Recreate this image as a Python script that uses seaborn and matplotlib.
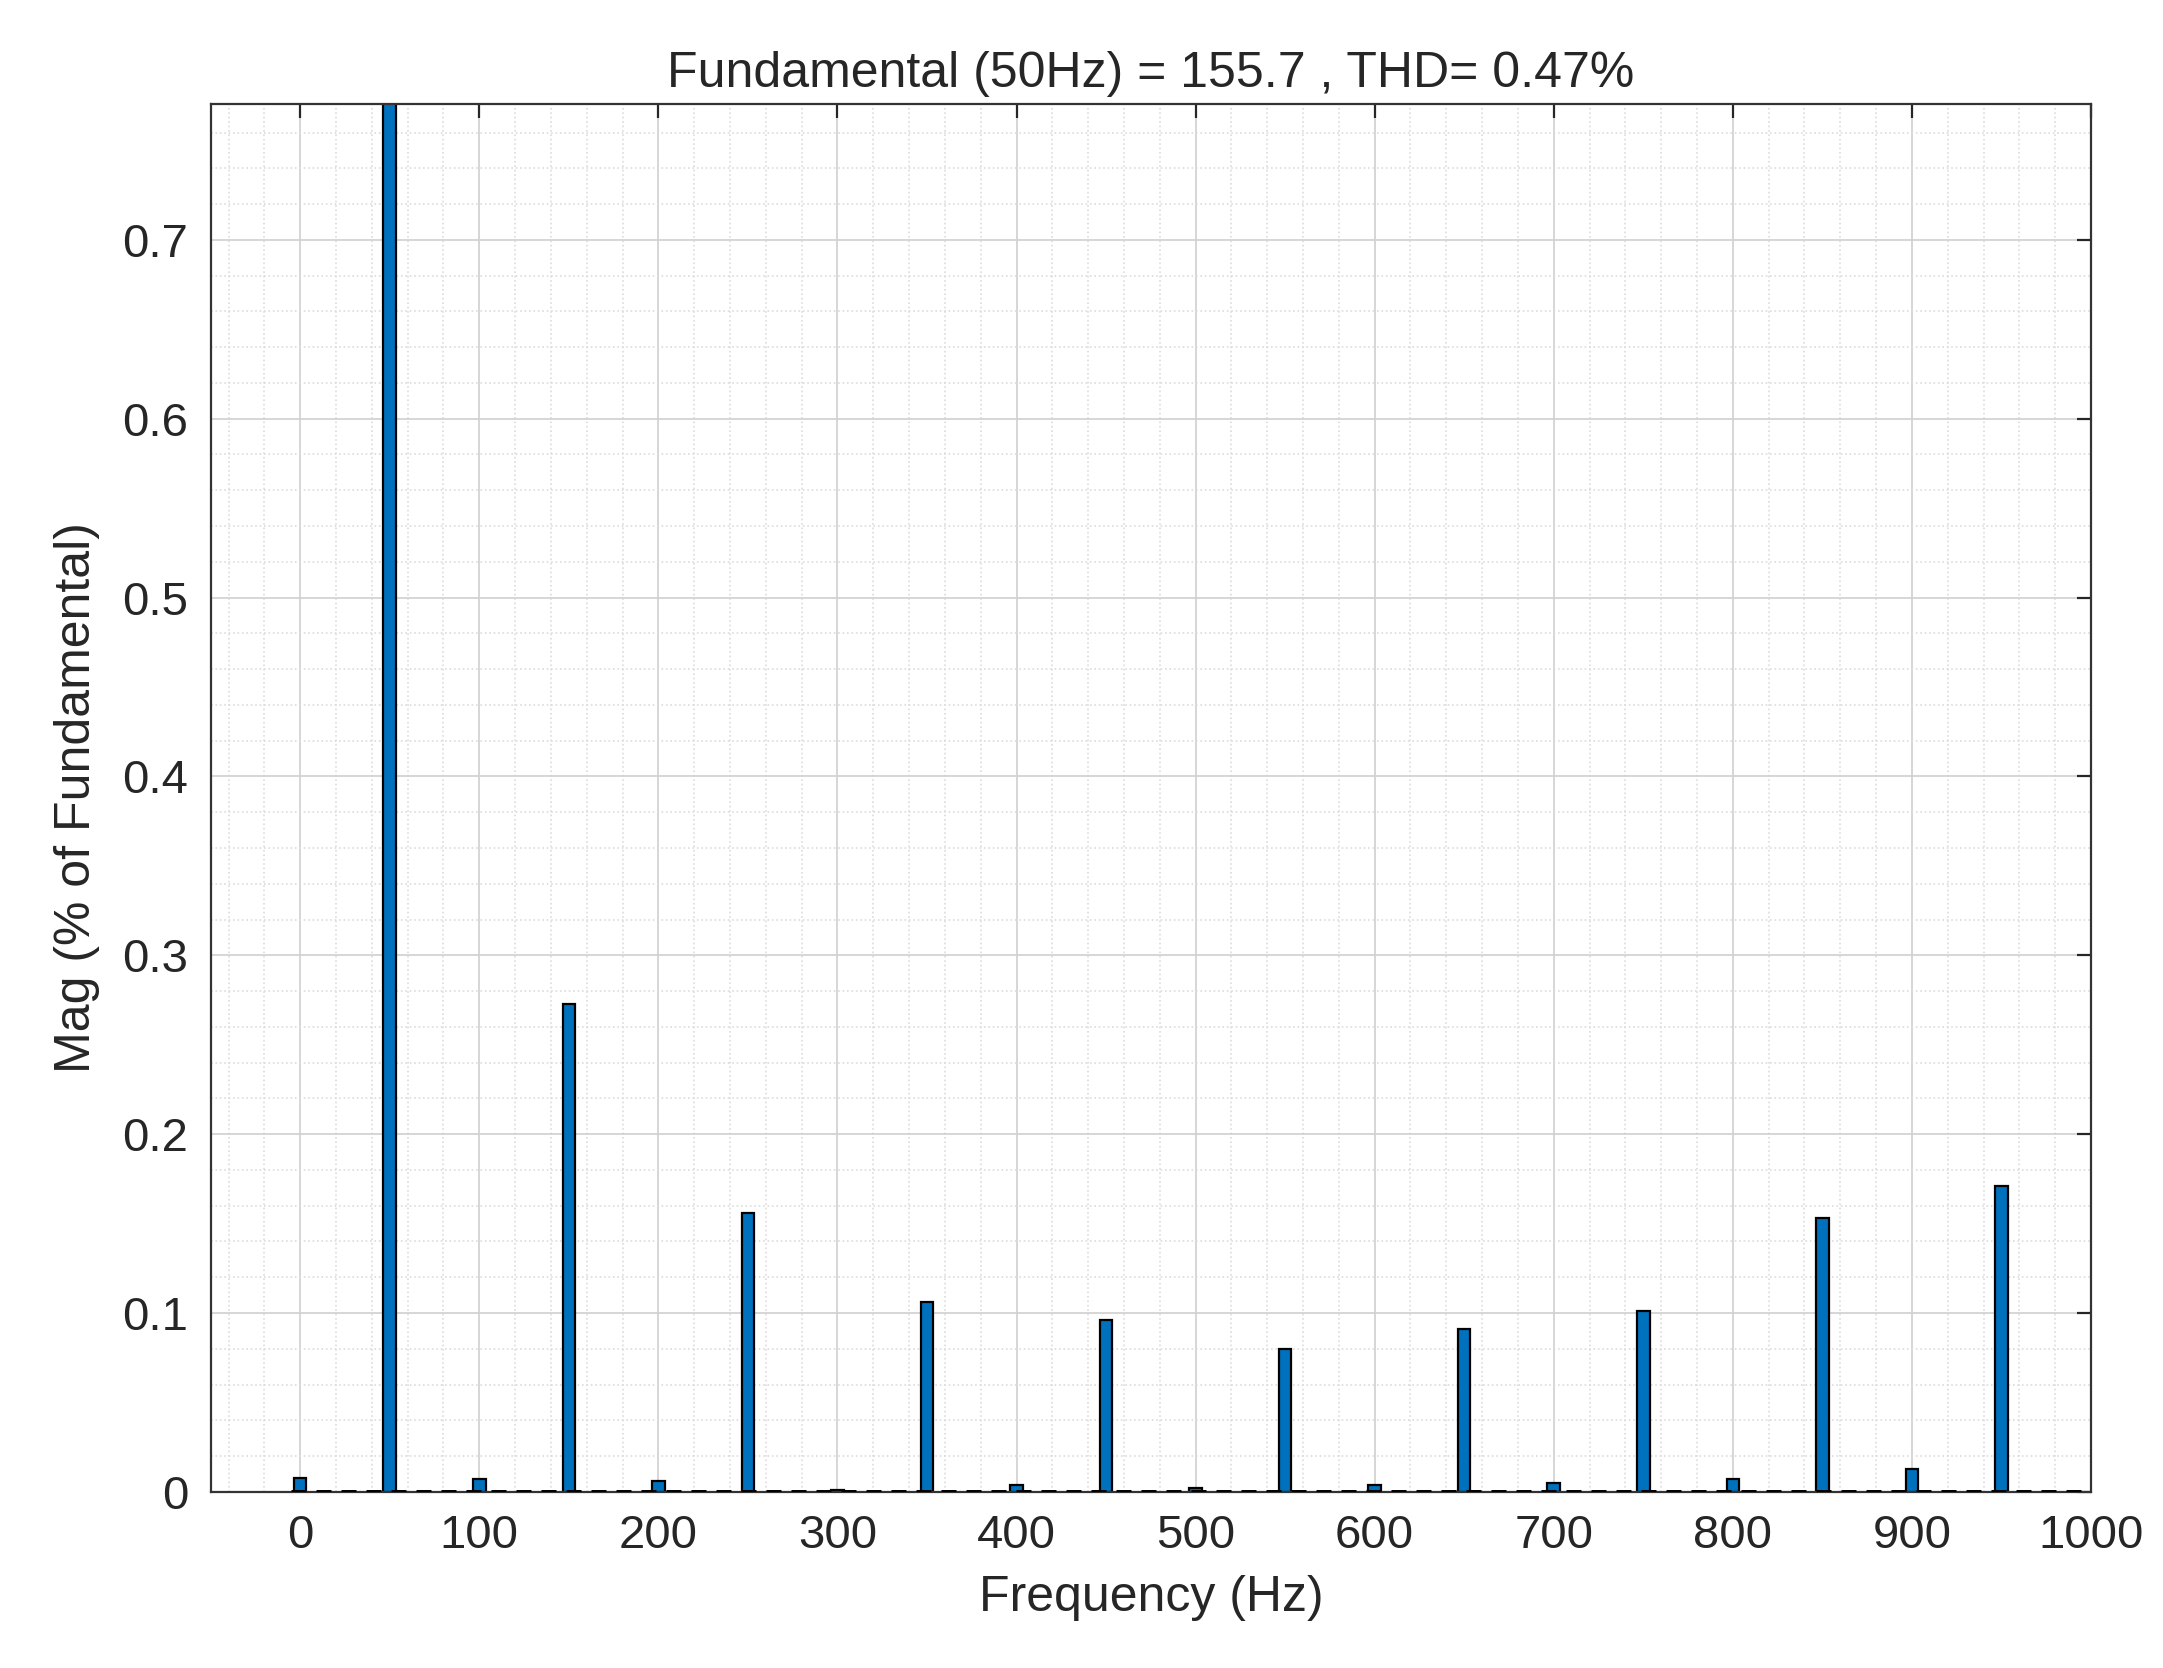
import seaborn as sns
import matplotlib.pyplot as plt
from matplotlib.ticker import MultipleLocator

# Гармоники (Гц) и амплитуды (% от основной)
freq = [0, 50, 100, 150, 200, 250, 300, 350, 400, 450, 500,
        550, 600, 650, 700, 750, 800, 850, 900, 950]
mag = [0.008, 100.0, 0.007, 0.273, 0.006, 0.156, 0.001, 0.106, 0.004, 0.096, 0.002,
       0.080, 0.004, 0.091, 0.005, 0.101, 0.007, 0.153, 0.013, 0.171]
x_ticks = [0, 100, 200, 300, 400, 500, 600, 700, 800, 900, 1000]
y_ticks = [0, 0.1, 0.2, 0.3, 0.4, 0.5, 0.6, 0.7]

sns.set_style('white')
plt.rcParams['font.family'] = ['Liberation Sans', 'DejaVu Sans']

fig = plt.figure(figsize=(10.815, 8.34), dpi=200)
ax = fig.add_axes([0.0974, 0.1056, 0.8693, 0.8321])

sns.barplot(x=freq, y=mag, native_scale=True, width=0.14, color='#0072BD',
            edgecolor='black', linewidth=0.8, saturation=1, ax=ax)
ax.plot([-5, 1000], [0, 0], color='black', linestyle=(0, (3, 2)), linewidth=1.8, zorder=5)

ax.set_xlim(-50, 1000)
ax.set_ylim(0, 0.776)
ax.set_xticks(x_ticks)
ax.set_yticks(y_ticks)
ax.set_yticklabels(['0'] + [f'{v:.1f}' for v in y_ticks[1:]])
ax.xaxis.set_minor_locator(MultipleLocator(20))
ax.yaxis.set_minor_locator(MultipleLocator(0.02))
ax.grid(which='major', color='#d0d0d0', linewidth=0.6)
ax.grid(which='minor', color='#dcdcdc', linestyle=':', linewidth=0.6)
ax.set_axisbelow(True)
ax.tick_params(which='major', direction='in', length=5, labelsize=17, pad=8,
               top=True, right=True)
for s in ax.spines.values():
    s.set_color('#333333')
    s.set_linewidth(0.8)

ax.set_title('Fundamental (50Hz) = 155.7 , THD= 0.47%', fontsize=18)
ax.set_xlabel('Frequency (Hz)', fontsize=18, labelpad=6)
ax.set_ylabel('Mag (% of Fundamental)', fontsize=18, labelpad=8)

fig.savefig('out.png')
